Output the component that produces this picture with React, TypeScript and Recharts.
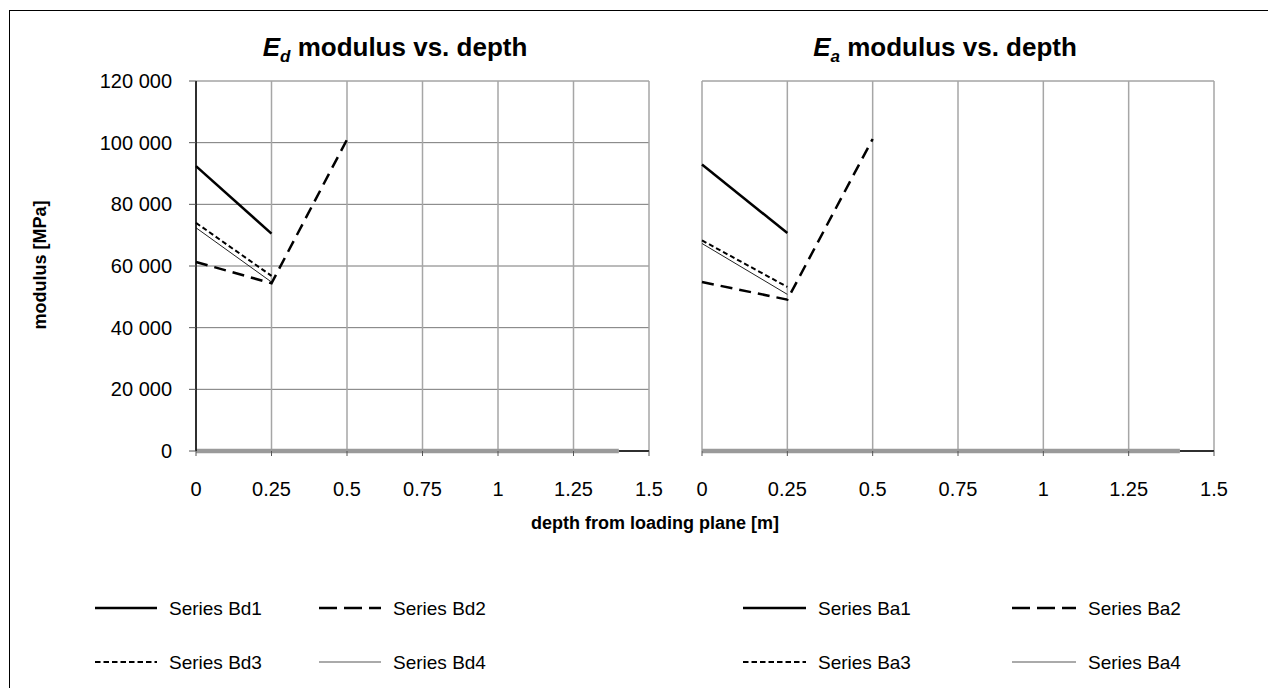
import React from 'react';
import { LineChart, Line, XAxis, YAxis, CartesianGrid, ReferenceLine } from 'recharts';

// ---- data ----
const depthTicks = [0, 0.25, 0.5, 0.75, 1, 1.25, 1.5];
const modulusTicks = [0, 20000, 40000, 60000, 80000, 100000, 120000];

const depthPair = [0, 0.25];
const depthTriple = [0, 0.25, 0.5];
const baseDepth = [0, 1.4];
const baseValues = [0, 0];

const seriesBd1 = [92400, 70500];
const seriesBd2 = [61300, 54400, 101000];
const seriesBd3 = [74000, 56800];
const seriesBd4 = [72400, 54800];

const seriesBa1 = [92900, 70700];
const seriesBa2 = [54800, 49100, 101200];
const seriesBa3 = [68300, 53200];
const seriesBa4 = [67300, 50800];

const legendLeft = ['Series Bd1', 'Series Bd2', 'Series Bd3', 'Series Bd4'];
const legendRight = ['Series Ba1', 'Series Ba2', 'Series Ba3', 'Series Ba4'];

const toPts = (xs: number[], ys: number[]) => xs.map((x, i) => ({ x, y: ys[i] }));

const FONT = '"Liberation Sans", Arial, Helvetica, sans-serif';

function fmt(v: number) {
  return v.toLocaleString('en-US').replace(/,/g, ' ');
}

type PanelProps = {
  left: number;
  width: number;
  marginLeft: number;
  marginRight: number;
  showY: boolean;
  s1: number[];
  s2: number[];
  s3: number[];
  s4: number[];
};

function Panel(p: PanelProps) {
  const H = 520;
  return (
    <div style={{ position: 'absolute', left: p.left, top: 0 }}>
      <LineChart
        width={p.width}
        height={H}
        margin={{ top: 81, right: p.marginRight, bottom: 29, left: p.marginLeft }}
      >
        <CartesianGrid horizontal={true} vertical={false} stroke="#777" strokeWidth={1} />
        <CartesianGrid horizontal={false} vertical={true} stroke="#a6a6a6" strokeWidth={1.5} />
        <XAxis
          type="number"
          dataKey="x"
          domain={[0, 1.5]}
          ticks={depthTicks}
          interval={0}
          height={40}
          tickSize={5}
          tickMargin={26}
          axisLine={false}
          tickLine={{ stroke: '#555' }}
          tick={{ fill: '#000', fontSize: 20, fontFamily: FONT }}
          tickFormatter={(v: number) => String(v)}
        />
        <YAxis
          type="number"
          domain={[0, 120000]}
          ticks={modulusTicks}
          interval={0}
          width={p.showY ? 100 : 0}
          tickSize={p.showY ? 7 : 0}
          tickMargin={p.showY ? 17 : 0}
          axisLine={p.showY ? { stroke: '#000', strokeWidth: 1.5 } : { stroke: '#999', strokeWidth: 2.5 }}
          tickLine={p.showY ? { stroke: '#555' } : false}
          tick={p.showY ? { fill: '#000', fontSize: 20, fontFamily: FONT } : false}
          tickFormatter={fmt}
        />
        <ReferenceLine
          segment={[{ x: 1.4, y: 0 }, { x: 1.5, y: 0 }]}
          stroke="#000"
          strokeWidth={1.5}
          ifOverflow="visible"
        />
        <Line
          data={toPts(baseDepth, baseValues)}
          dataKey="y"
          stroke="#9a9a9a"
          strokeWidth={4.5}
          dot={false}
          isAnimationActive={false}
        />
        <Line
          data={toPts(depthPair, p.s4)}
          dataKey="y"
          stroke="#222"
          strokeWidth={1}
          dot={false}
          isAnimationActive={false}
        />
        <Line
          data={toPts(depthPair, p.s3)}
          dataKey="y"
          stroke="#000"
          strokeWidth={2}
          strokeDasharray="5 3"
          dot={false}
          isAnimationActive={false}
        />
        <Line
          data={toPts(depthTriple, p.s2)}
          dataKey="y"
          stroke="#000"
          strokeWidth={2.5}
          strokeDasharray="12 7"
          dot={false}
          isAnimationActive={false}
        />
        <Line
          data={toPts(depthPair, p.s1)}
          dataKey="y"
          stroke="#000"
          strokeWidth={2.5}
          dot={false}
          isAnimationActive={false}
        />
      </LineChart>
    </div>
  );
}

function LegendItem({ x1, x2, y, kind, label }: { x1: number; x2: number; y: number; kind: number; label: string }) {
  let line: React.ReactNode;
  if (kind === 0) line = <line x1={x1} x2={x2} y1={y} y2={y} stroke="#000" strokeWidth={2.5} />;
  else if (kind === 1) line = <line x1={x1} x2={x2} y1={y} y2={y} stroke="#000" strokeWidth={2.5} strokeDasharray="18 7" />;
  else if (kind === 2) line = <line x1={x1} x2={x2} y1={y} y2={y} stroke="#000" strokeWidth={2} strokeDasharray="5.5 3" />;
  else line = <line x1={x1} x2={x2} y1={y} y2={y} stroke="#aaa" strokeWidth={2} />;
  return (
    <g>
      {line}
      <text x={x2 + 12} y={y} dy="0.35em" fontSize={19} fontFamily={FONT} fill="#000">
        {label}
      </text>
    </g>
  );
}

export default function App() {
  return (
    <div
      style={{
        position: 'absolute',
        left: 0,
        top: 0,
        width: 1268,
        height: 688,
        background: '#fff',
        overflow: 'hidden',
        fontFamily: FONT,
      }}
    >
      <Panel left={0} width={700} marginLeft={96} marginRight={51} showY={true}
        s1={seriesBd1} s2={seriesBd2} s3={seriesBd3} s4={seriesBd4} />
      <Panel left={650} width={600} marginLeft={52} marginRight={36} showY={false}
        s1={seriesBa1} s2={seriesBa2} s3={seriesBa3} s4={seriesBa4} />
      <svg
        width={1268}
        height={688}
        style={{ position: 'absolute', left: 0, top: 0, pointerEvents: 'none' }}
      >
        <rect x={9.5} y={10.5} width={1300} height={700} fill="none" stroke="#000" strokeWidth={1} />
        <text x={395} y={56} textAnchor="middle" fontSize={26} fontWeight="bold" fontFamily={FONT} fill="#000">
          <tspan fontStyle="italic">E</tspan>
          <tspan fontStyle="italic" fontSize={17} dy={6}>d</tspan>
          <tspan dy={-6}> modulus vs. depth</tspan>
        </text>
        <text x={945} y={56} textAnchor="middle" fontSize={26} fontWeight="bold" fontFamily={FONT} fill="#000">
          <tspan fontStyle="italic">E</tspan>
          <tspan fontStyle="italic" fontSize={17} dy={6}>a</tspan>
          <tspan dy={-6}> modulus vs. depth</tspan>
        </text>
        <text
          transform="translate(46,265) rotate(-90)"
          textAnchor="middle"
          fontSize={18}
          fontWeight="bold"
          fontFamily={FONT}
          fill="#000"
        >
          modulus [MPa]
        </text>
        <text x={655} y={529} textAnchor="middle" fontSize={18} fontWeight="bold" fontFamily={FONT} fill="#000">
          depth from loading plane [m]
        </text>
        <LegendItem x1={95} x2={157} y={608} kind={0} label={legendLeft[0]} />
        <LegendItem x1={319} x2={381} y={608} kind={1} label={legendLeft[1]} />
        <LegendItem x1={95} x2={157} y={662} kind={2} label={legendLeft[2]} />
        <LegendItem x1={319} x2={381} y={662} kind={3} label={legendLeft[3]} />
        <LegendItem x1={743} x2={806} y={608} kind={0} label={legendRight[0]} />
        <LegendItem x1={1012} x2={1076} y={608} kind={1} label={legendRight[1]} />
        <LegendItem x1={743} x2={806} y={662} kind={2} label={legendRight[2]} />
        <LegendItem x1={1012} x2={1076} y={662} kind={3} label={legendRight[3]} />
      </svg>
    </div>
  );
}
